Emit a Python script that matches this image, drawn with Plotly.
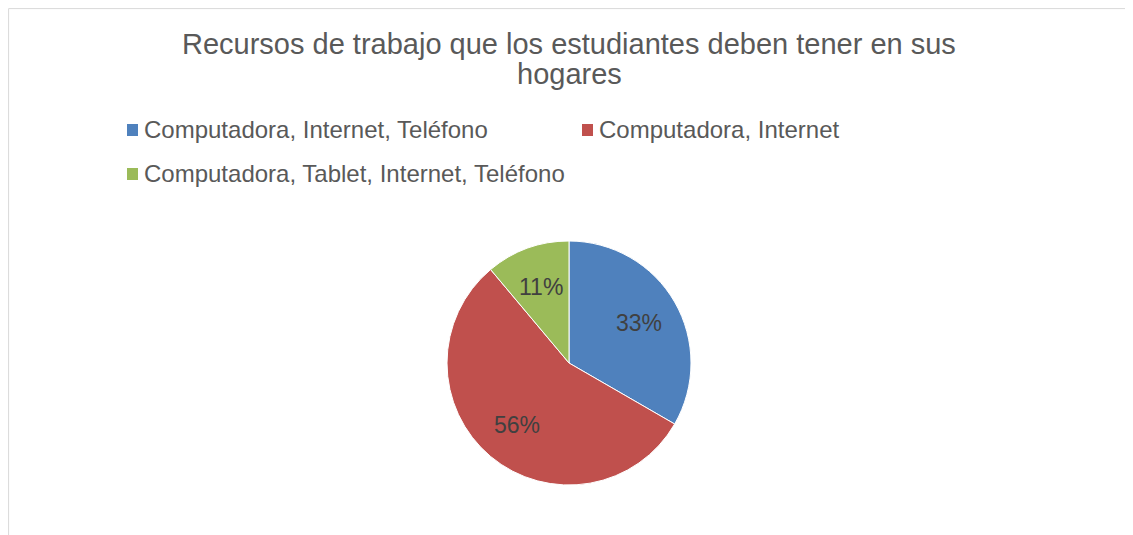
import math
import plotly.graph_objects as go

# data
labels = ["Computadora, Internet, Teléfono", "Computadora, Internet",
          "Computadora, Tablet, Internet, Teléfono"]
values = [3, 5, 1]
colors = ["#4F81BD", "#C0504D", "#9BBB59"]
title_lines = ["Recursos de trabajo que los estudiantes deben tener en sus", "hogares"]

W, H = 1133, 535
OX, OY = 8, 8          # body margin of the html page
FONT = "Liberation Sans, Arial, sans-serif"


def px(x):
    return (x - OX) / W


def py(y):
    return 1 - (y - OY) / H


CX, CY, R = 569, 363, 122

fig = go.Figure()
fig.add_trace(go.Pie(
    labels=labels,
    values=values,
    sort=False,
    direction="clockwise",
    rotation=0,
    marker=dict(colors=colors, line=dict(color="white", width=1)),
    textinfo="none",
    domain=dict(x=[px(CX - R), px(CX + R)], y=[py(CY + R), py(CY - R)]),
    showlegend=False,
    hoverinfo="label+percent",
))

# percent labels placed inside each slice, like the original
total = sum(values)
start = 0.0
for v in values:
    mid = (start + v / total / 2) * 2 * math.pi
    start += v / total
    lx = CX + 0.66 * R * math.sin(mid)
    ly = CY - 0.66 * R * math.cos(mid)
    fig.add_annotation(text=f"{round(100 * v / total)}%", xref="paper", yref="paper",
                       x=px(lx), y=py(ly), showarrow=False,
                       xanchor="center", yanchor="middle",
                       font=dict(family=FONT, size=23, color="#404040"))

# custom legend: two columns, rows 44px apart
leg_pos = [(127, 130), (582, 130), (127, 174)]
for lab, col, (lx, ly) in zip(labels, colors, leg_pos):
    fig.add_shape(type="rect", xref="paper", yref="paper",
                  x0=px(lx), x1=px(lx + 11),
                  y0=py(ly + 6), y1=py(ly - 6),
                  fillcolor=col, line=dict(width=0))
    fig.add_annotation(text=lab, xref="paper", yref="paper",
                       x=px(lx + 15), y=py(ly),
                       xanchor="left", yanchor="middle", showarrow=False,
                       font=dict(family=FONT, size=24, color="#595959"))

# title, two lines
for line, ty in zip(title_lines, [44, 74]):
    fig.add_annotation(text=line, xref="paper", yref="paper",
                       x=px(569), y=py(ty), showarrow=False,
                       xanchor="center", yanchor="middle",
                       font=dict(family=FONT, size=29, color="#595959"))

# chart border (left and top edges visible)
fig.add_shape(type="rect", xref="paper", yref="paper",
              x0=0.6 / W, x1=1.02, y0=-0.05, y1=1 - 0.6 / H,
              line=dict(color="#D9D9D9", width=1))

fig.update_layout(
    width=W, height=H,
    margin=dict(l=0, r=0, t=0, b=0),
    paper_bgcolor="white",
    plot_bgcolor="white",
)

fig.write_html("out.html")
